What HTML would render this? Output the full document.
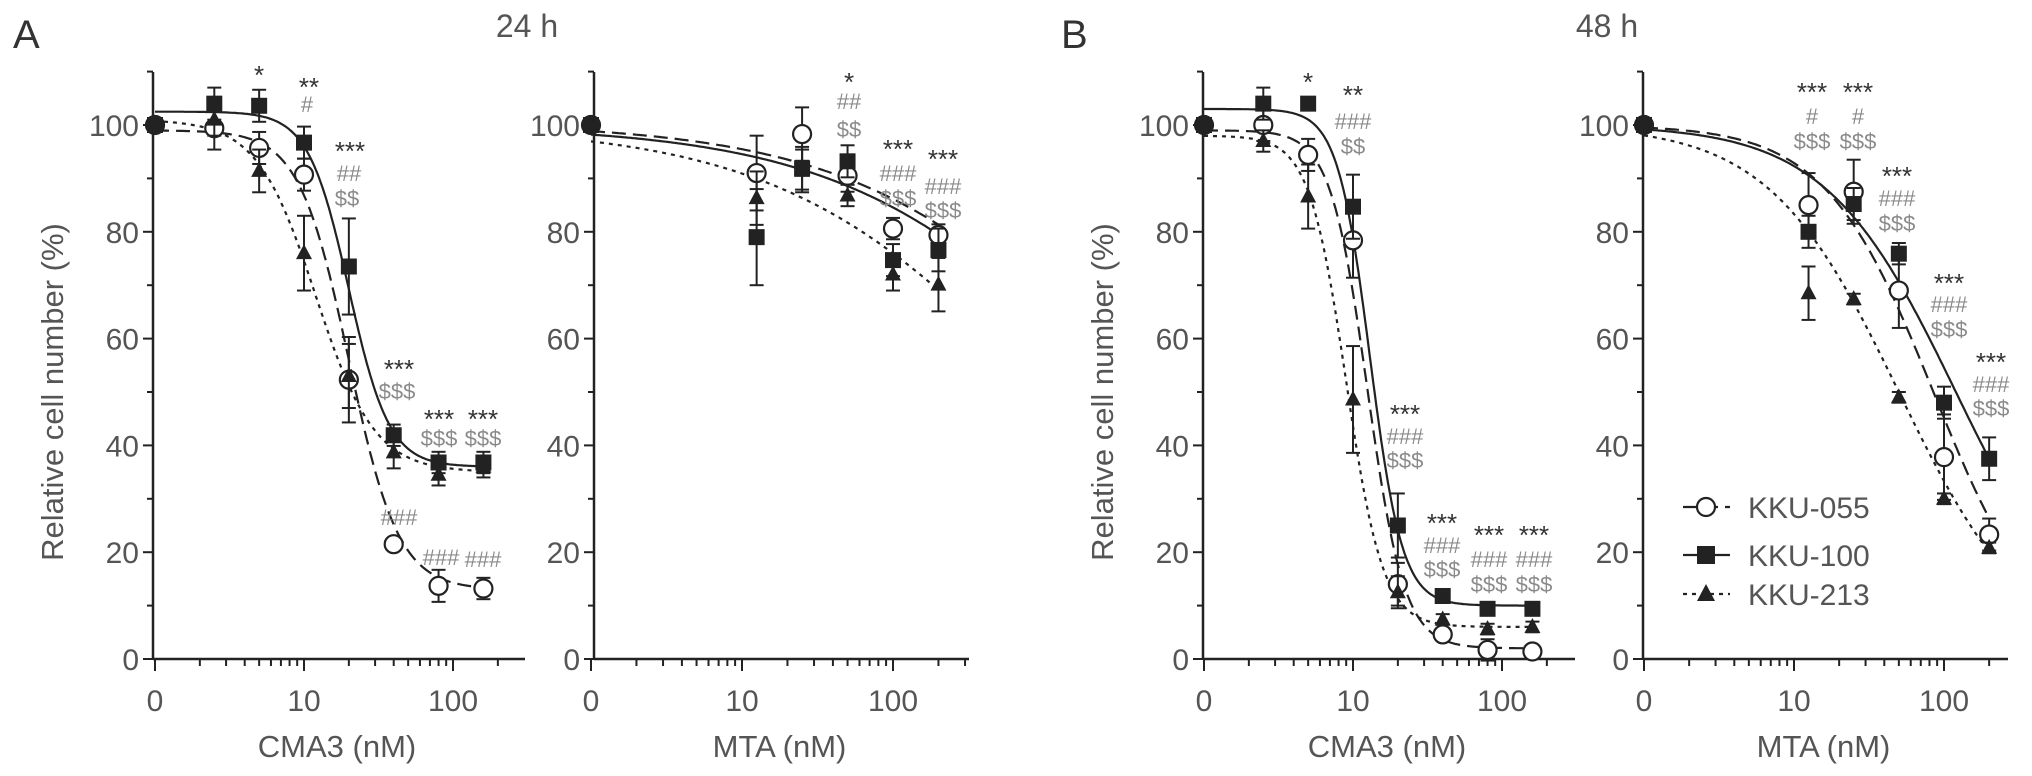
<!DOCTYPE html>
<html><head><meta charset="utf-8">
<style>
html,body{margin:0;padding:0;background:#fff;}
svg{display:block;font-family:"Liberation Sans",Arial,sans-serif;}
</style></head>
<body>
<svg id="chart" width="2032" height="776" viewBox="0 0 2032 776">
<text x="13" y="48" font-size="40" fill="#333">A</text>
<text x="527" y="37" font-size="32" fill="#555" text-anchor="middle">24 h</text>
<text x="1061" y="48" font-size="40" fill="#333">B</text>
<text x="1607" y="37" font-size="32" fill="#555" text-anchor="middle">48 h</text>
</svg>
<script>
// ---- data ----
const cmaDoses = [0, 2.5, 5, 10, 20, 40, 80, 160];
const mtaDoses = [0, 12.5, 25, 50, 100, 200];
const yTicks = [0, 20, 40, 60, 80, 100];
const xTickLabels = ["0", "10", "100"];
const seriesNames = ["KKU-055", "KKU-100", "KKU-213"];

const a1_055 = [100, 99.4, 95.7, 90.7, 52.3, 21.5, 13.7, 13.2];
const a1_100 = [100, 104, 103.6, 96.7, 73.5, 41.9, 36.8, 36.8];
const a1_213 = [100, 101, 91.4, 76, 53, 38.7, 34.5, 36];
const a1_055e = [1, 4, 3, 3, 8, 1, 3, 2];
const a1_100e = [1, 3, 3, 3, 9, 2, 2, 2];
const a1_213e = [1, 3, 4, 7, 6, 3, 2, 2];

const a2_055 = [100, 91, 98.3, 90.5, 80.6, 79.4];
const a2_100 = [100, 79, 91.9, 93.2, 74.7, 76.6];
const a2_213 = [100, 86.3, 91.4, 86.8, 72, 70.1];
const a2_055e = [1, 7, 5, 3, 2, 2];
const a2_100e = [1, 9, 4, 3, 3, 4];
const a2_213e = [1, 5, 4, 2, 3, 5];

const b1_055 = [100, 100, 94.4, 78.4, 14, 4.6, 1.7, 1.4];
const b1_100 = [100, 104, 104, 84.7, 25, 11.8, 9.4, 9.4];
const b1_213 = [100, 97, 86.6, 48.6, 12.5, 7.4, 5.6, 6];
const b1_055e = [1, 3, 3, 7, 4, 1, 2, 1];
const b1_100e = [1, 3, 1, 6, 6, 1, 1, 1];
const b1_213e = [1, 2, 6, 10, 3, 1, 1, 1];

const b2_055 = [100, 85, 87.5, 69, 37.8, 23.3];
const b2_100 = [100, 80, 85.2, 75.9, 48, 37.5];
const b2_213 = [100, 68.5, 67.4, 49, 30, 20.8];
const b2_055e = [1, 6, 6, 7, 8, 3];
const b2_100e = [1, 3, 3, 2, 3, 4];
const b2_213e = [1, 5, 1, 1, 1, 1];

// curve fit params: [top, bottom, ec50, hill]
const a1_fit = [[99, 13, 20, 2.6], [102.5, 36, 20, 3.2], [101, 35, 12, 2.2]];
const a2_fit = [[100.5, 0, 3600, 0.5], [100, 0, 3000, 0.5], [100, 0, 1000, 0.5]];
const b1_fit = [[99, 2, 12.5, 3.5], [103, 10, 13, 4], [98, 6, 9, 3.5]];
const b2_fit = [[100, 0, 85, 1.2], [100, 0, 120, 1], [100, 0, 50, 1]];

const ns = "http://www.w3.org/2000/svg";
const svg = document.getElementById('chart');
function el(tag, attrs, parent) {
  const e = document.createElementNS(ns, tag);
  for (const k in attrs) e.setAttribute(k, attrs[k]);
  (parent || svg).appendChild(e);
  return e;
}
const Y0 = 659, YPER = 5.34, YTOP = 72;
function ym(v) { return Y0 - v * YPER; }
const INK = "#222", GRAY = "#555";
const dashes = ["14,7", "", "4,5"];

function panel(id, ax, x10, dec, xEnd, doses, series, errs, fits, xTitle, yTitle, maxDose) {
  const g = el('g', {});
  
  
  const xm = d => x10 + dec * (Math.log10(d <= 0 ? 1 : d) - 1);
  const yAx = el('line', {x1: ax, y1: YTOP, x2: ax, y2: Y0, stroke: INK, 'stroke-width': 2.5}, g);
  
  
  const xAx = el('line', {x1: ax, y1: Y0, x2: xEnd, y2: Y0, stroke: INK, 'stroke-width': 2.5}, g);
  
  
  for (let v = 0; v <= 110; v += 10) {
    const major = v % 20 === 0;
    el('line', {x1: ax - (major ? 10 : 6), x2: ax, y1: ym(v), y2: ym(v), stroke: INK, 'stroke-width': 2}, g);
  }
  yTicks.forEach(v => {
    const t = el('text', {x: ax - 14, y: ym(v) + 11, 'font-size': 30, fill: GRAY, 'text-anchor': 'end'}, g);
    t.textContent = v;
    
    
  });
  for (let e = 0; e <= 2; e++) {
    for (let m = 1; m <= 9; m++) {
      const val = m * Math.pow(10, e);
      const x = xm(val);
      if (x > xEnd - 2) continue;
      const major = m === 1;
      el('line', {x1: x, x2: x, y1: Y0, y2: Y0 + (major ? 12 : 7), stroke: INK, 'stroke-width': 2}, g);
    }
  }
  xTickLabels.forEach((lab, i) => {
    const t = el('text', {x: xm(Math.pow(10, i)), y: Y0 + 52, 'font-size': 30, fill: GRAY, 'text-anchor': 'middle'}, g);
    t.textContent = lab;
    
    
  });
  const xt = el('text', {x: (ax + xEnd) / 2 - 2, y: 757, 'font-size': 31, fill: GRAY, 'text-anchor': 'middle'}, g);
  xt.textContent = xTitle;
  
  
  if (yTitle) {
    const yt = el('text', {x: 0, y: 0, 'font-size': 31, fill: GRAY, 'text-anchor': 'middle', transform: `translate(${ax - 90},392) rotate(-90)`}, g);
    yt.textContent = yTitle;
    
    
  }
  fits.forEach((p, si) => {
    let d = "";
    for (let i = 0; i <= 200; i++) {
      const lx = Math.log10(maxDose) * i / 200;
      const c = Math.pow(10, lx);
      const v = p[1] + (p[0] - p[1]) / (1 + Math.pow(c / p[2], p[3]));
      d += (i ? "L" : "M") + xm(c).toFixed(1) + "," + ym(v).toFixed(1);
    }
    const path = el('path', {d: d, fill: 'none', stroke: INK, 'stroke-width': 2.2, 'stroke-dasharray': dashes[si]}, g);
    
    
  });
  series.forEach((arr, si) => {
    arr.forEach((v, i) => {
      const x = xm(doses[i]), y = ym(v), e = errs[si][i];
      el('line', {x1: x, x2: x, y1: ym(v + e), y2: ym(v - e), stroke: INK, 'stroke-width': 2}, g);
      el('line', {x1: x - 7, x2: x + 7, y1: ym(v + e), y2: ym(v + e), stroke: INK, 'stroke-width': 2}, g);
      el('line', {x1: x - 7, x2: x + 7, y1: ym(v - e), y2: ym(v - e), stroke: INK, 'stroke-width': 2}, g);
      let m;
      if (si === 0) m = el('circle', {cx: x, cy: y, r: 9, fill: '#fff', stroke: INK, 'stroke-width': 2.2}, g);
      else if (si === 1) m = el('rect', {x: x - 8, y: y - 8, width: 16, height: 16, fill: INK}, g);
      else m = el('polygon', {points: `${x},${y - 9} ${x + 8},${y + 6} ${x - 8},${y + 6}`, fill: INK}, g);
      
      
    });
  });
}

panel('a1', 153, 304, 149, 525, cmaDoses, [a1_055, a1_100, a1_213], [a1_055e, a1_100e, a1_213e], a1_fit, 'CMA3 (nM)', 'Relative cell number (%)', 160);
panel('a2', 594, 742, 151, 969, mtaDoses, [a2_055, a2_100, a2_213], [a2_055e, a2_100e, a2_213e], a2_fit, 'MTA (nM)', null, 200);
panel('b1', 1203, 1353, 149, 1575, cmaDoses, [b1_055, b1_100, b1_213], [b1_055e, b1_100e, b1_213e], b1_fit, 'CMA3 (nM)', 'Relative cell number (%)', 160);
panel('b2', 1643, 1794, 150, 2008, mtaDoses, [b2_055, b2_100, b2_213], [b2_055e, b2_100e, b2_213e], b2_fit, 'MTA (nM)', null, 200);

const annots = [
 [259,72,"*"],[309,84,"**"],[307,104,"#"],[350,148,"***"],[349,173,"##"],[347,198,"$$"],
 [399,366,"***"],[397,391,"$$$"],[439,416,"***"],[483,416,"***"],[439,438,"$$$"],[483,438,"$$$"],
 [399,517,"###"],[441,557,"###"],[483,559,"###"],
 [849,79,"*"],[849,101,"##"],[849,129,"$$"],[898,146,"***"],[898,173,"###"],[898,198,"$$$"],
 [943,156,"***"],[943,186,"###"],[943,210,"$$$"],
 [1308,79,"*"],[1353,92,"**"],[1353,121,"###"],[1353,146,"$$"],
 [1405,411,"***"],[1405,436,"###"],[1405,460,"$$$"],
 [1442,520,"***"],[1442,545,"###"],[1442,569,"$$$"],
 [1489,532,"***"],[1534,532,"***"],[1489,559,"###"],[1534,559,"###"],[1489,584,"$$$"],[1534,584,"$$$"],
 [1812,89,"***"],[1858,89,"***"],[1812,116,"#"],[1858,116,"#"],[1812,141,"$$$"],[1858,141,"$$$"],
 [1897,173,"***"],[1897,198,"###"],[1897,223,"$$$"],
 [1949,280,"***"],[1949,304,"###"],[1949,329,"$$$"],
 [1991,359,"***"],[1991,384,"###"],[1991,408,"$$$"]
];
annots.forEach(a => {
  const isStar = a[2][0] === "*";
  const t = el('text', {x: a[0], y: a[1] + (isStar ? 12 : 8), 'font-size': isStar ? 26 : 22, fill: isStar ? '#333' : '#8a8a8a', 'text-anchor': 'middle'});
  t.textContent = a[2];
  
  
});

const lg = el('g', {});


const legY = [507, 555, 594];
seriesNames.forEach((n, si) => {
  const y = legY[si];
  const ln = el('line', {x1: 1683, x2: 1730, y1: y, y2: y, stroke: INK, 'stroke-width': 2.2, 'stroke-dasharray': dashes[si]}, lg);
  
  
  const x = 1706;
  let m;
  if (si === 0) m = el('circle', {cx: x, cy: y, r: 9, fill: '#fff', stroke: INK, 'stroke-width': 2.2}, lg);
  else if (si === 1) m = el('rect', {x: x - 9, y: y - 9, width: 18, height: 18, fill: INK}, lg);
  else m = el('polygon', {points: `${x},${y - 10} ${x + 9},${y + 7} ${x - 9},${y + 7}`, fill: INK}, lg);
  
  
  const t = el('text', {x: 1748, y: y + 11, 'font-size': 30, fill: GRAY}, lg);
  t.textContent = n;
  
  
});
</script>
</body></html>
